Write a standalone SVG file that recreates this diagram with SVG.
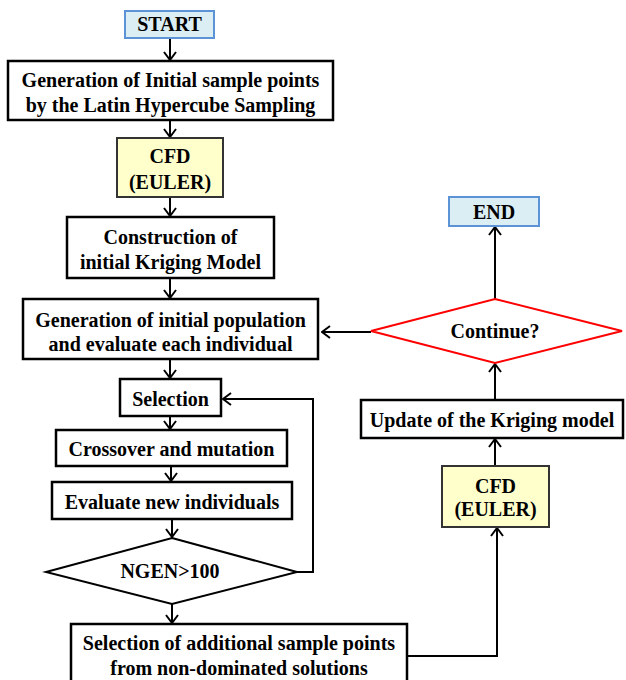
<svg xmlns="http://www.w3.org/2000/svg" width="626" height="680" viewBox="0 0 626 680">
<defs>
<style>
.box{fill:#ffffff;stroke:#000000;stroke-width:2.5}
.term{fill:#dbeef4;stroke:#5b93d6;stroke-width:2}
.cfd{fill:#ffffcc;stroke:#333333;stroke-width:2}
.dia{fill:#ffffff;stroke:#000000;stroke-width:2}
.red{fill:#ffffff;stroke:#ff0000;stroke-width:2}
text{font-family:'Liberation Serif','Times New Roman',Times,serif;font-weight:bold;font-size:20px;fill:#000000;text-anchor:middle}
.c{fill:none;stroke:#000000;stroke-width:2}
.a{marker-end:url(#arr)}
</style>
<marker id="arr" viewBox="0 0 10 14" refX="9" refY="7" markerWidth="10" markerHeight="14" markerUnits="userSpaceOnUse" orient="auto">
<path d="M1,1 L9,7 L1,13" fill="none" stroke="#000000" stroke-width="2"/>
</marker>
</defs>
<rect width="626" height="680" fill="#ffffff"/>
<g id="connectors">
<line class="c a" x1="170" y1="38" x2="170" y2="60"/>
<line class="c a" x1="170" y1="120" x2="170" y2="137"/>
<line class="c a" x1="170" y1="197" x2="170" y2="216"/>
<line class="c a" x1="170" y1="278" x2="170" y2="298"/>
<line class="c a" x1="170" y1="359" x2="170" y2="378"/>
<line class="c a" x1="170" y1="416" x2="170" y2="429"/>
<line class="c a" x1="171" y1="466" x2="171" y2="481"/>
<line class="c a" x1="172" y1="519" x2="172" y2="537"/>
<polyline class="c a" points="297,572 313,572 313,399 223,399"/>
<line class="c a" x1="172" y1="604" x2="172" y2="623"/>
<polyline class="c a" points="407,656 497,656 497,528"/>
<line class="c a" x1="495" y1="466" x2="495" y2="439"/>
<line class="c a" x1="495" y1="400" x2="495" y2="364"/>
<line class="c a" x1="371" y1="332" x2="322" y2="332"/>
<line class="c a" x1="495" y1="299" x2="495" y2="227"/>
</g>
<g id="start">
<rect class="term" x="125" y="11" width="89" height="27"/>
<text x="169.5" y="31">START</text>
</g>
<g id="lhs">
<rect class="box" x="8" y="61" width="325" height="59"/>
<text x="170.5" y="87">Generation of Initial sample points</text>
<text x="170.5" y="112">by the Latin Hypercube Sampling</text>
</g>
<g id="cfd1">
<rect class="cfd" x="117" y="138" width="106" height="59"/>
<text x="170" y="163">CFD</text>
<text x="170" y="188.5">(EULER)</text>
</g>
<g id="kriging-init">
<rect class="box" x="67" y="217" width="207" height="61"/>
<text x="170.5" y="243.5">Construction of</text>
<text x="170.5" y="268.5">initial Kriging Model</text>
</g>
<g id="init-pop">
<rect class="box" x="23" y="299" width="295" height="60"/>
<text x="170.5" y="326.5">Generation of initial population</text>
<text x="170.5" y="350.5">and evaluate each individual</text>
</g>
<g id="selection">
<rect class="box" x="120" y="379" width="101" height="37"/>
<text x="170.5" y="406">Selection</text>
</g>
<g id="crossover">
<rect class="box" x="56" y="430" width="231" height="36"/>
<text x="171.5" y="456">Crossover and mutation</text>
</g>
<g id="evaluate">
<rect class="box" x="52" y="482" width="240" height="37"/>
<text x="172" y="509">Evaluate new individuals</text>
</g>
<g id="ngen">
<polygon class="dia" points="172,538 297,572 172,604 46,572"/>
<text x="170" y="577.5">NGEN&gt;100</text>
</g>
<g id="add-sample">
<rect class="box" x="71" y="624" width="336" height="66"/>
<text x="239" y="650">Selection of additional sample points</text>
<text x="239" y="674.5">from non-dominated solutions</text>
</g>
<g id="cfd2">
<rect class="cfd" x="442" y="466" width="107" height="61"/>
<text x="495.5" y="493">CFD</text>
<text x="495.5" y="515.5">(EULER)</text>
</g>
<g id="update">
<rect class="box" x="361" y="400" width="262" height="38"/>
<text x="492" y="426.5">Update of the Kriging model</text>
</g>
<g id="continue">
<polygon class="red" points="495,299 622,331 495,363 371,331"/>
<text x="495" y="338">Continue?</text>
</g>
<g id="end">
<rect class="term" x="449" y="197" width="90" height="29"/>
<text x="494" y="218.5">END</text>
</g>
</svg>
